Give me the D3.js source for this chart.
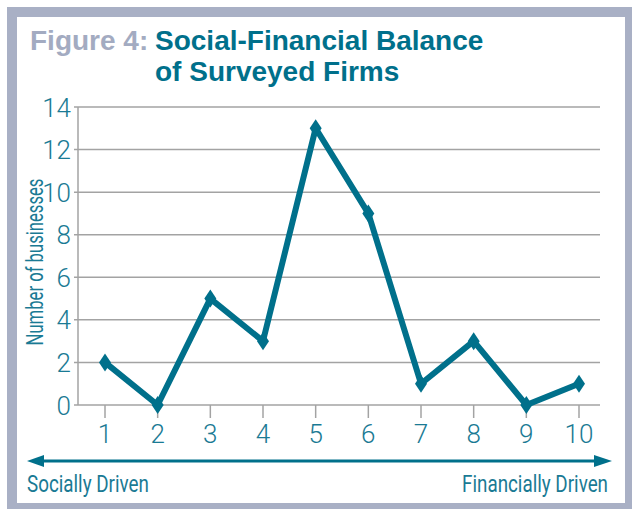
<!DOCTYPE html>
<html><head><meta charset="utf-8">
<script src="https://cdn.jsdelivr.net/npm/d3@7/dist/d3.min.js"></script>
<style>
html,body{margin:0;padding:0;background:#fff;}
svg{display:block;}
</style></head>
<body>
<svg id="chart" width="632" height="509"></svg>
<script>
const categories = [1,2,3,4,5,6,7,8,9,10];
const businesses = [2,0,5,3,13,9,1,3,0,1];
const yTicks = [0,2,4,6,8,10,12,14];
const titleLead = "Figure 4:";
const titleLines = ["Social-Financial Balance","of Surveyed Firms"];
const yAxisTitle = "Number of businesses";
const leftLabel = "Socially Driven";
const rightLabel = "Financially Driven";

const teal = "#00708b", textTeal = "#1a7a94", frame = "#a9b0c5", grid = "#a3a3a3";
const font = "'Liberation Sans', Arial, sans-serif";
const light = "Roboto, 'Liberation Sans', sans-serif";

const svg = d3.select("#chart");
svg.append("rect").attr("x",7).attr("y",7).attr("width",625).attr("height",502).attr("fill",frame);
svg.append("rect").attr("x",17).attr("y",17).attr("width",608).attr("height",486).attr("fill","#fff");

// title
const t1 = svg.append("text").attr("x",30).attr("y",50).attr("font-family",font)
  .attr("font-weight","bold").attr("font-size",28);
t1.append("tspan").attr("fill","#a3abc1").text(titleLead);
t1.append("tspan").attr("fill",teal).attr("x",155).text(titleLines[0]);
svg.append("text").attr("x",155).attr("y",81).attr("font-family",font)
  .attr("font-weight","bold").attr("font-size",28).attr("fill",teal).text(titleLines[1]);

const x = d3.scaleLinear().domain([1,10]).range([105,579]);
const y = d3.scaleLinear().domain([0,14]).range([405,107]);
const left = 78, right = 600;

svg.append("g").selectAll("line").data(yTicks).join("line")
  .attr("x1",74).attr("x2",right).attr("y1",d=>y(d)).attr("y2",d=>y(d))
  .attr("stroke",grid).attr("stroke-width",1.5);
svg.append("line").attr("x1",left).attr("x2",left).attr("y1",y(14)).attr("y2",y(0))
  .attr("stroke",grid).attr("stroke-width",1.5);
svg.append("g").selectAll("line").data(categories).join("line")
  .attr("x1",d=>x(d)).attr("x2",d=>x(d)).attr("y1",y(0)).attr("y2",y(0)+13)
  .attr("stroke",grid).attr("stroke-width",1.5);

svg.append("g").selectAll("text").data(yTicks).join("text")
  .attr("x",71).attr("y",d=>y(d)+9.5).attr("text-anchor","end")
  .attr("font-family",light).attr("font-weight",300).attr("font-size",26).attr("fill",textTeal).text(d=>d);
svg.append("g").selectAll("text").data(categories).join("text")
  .attr("x",d=>x(d)).attr("y",443).attr("text-anchor","middle")
  .attr("font-family",light).attr("font-weight",300).attr("font-size",26).attr("fill",textTeal).text(d=>d);

function condensed(txt, tx, ty, rot, anchor, width){
  const g = svg.append("g").attr("transform",`translate(${tx},${ty}) rotate(${rot})`);
  const el = g.append("text").attr("text-anchor",anchor).attr("font-family",light)
    .attr("font-weight",400).attr("font-size",23).attr("fill",textTeal).text(txt);
  const len = el.node().getComputedTextLength();
  el.attr("transform",`scale(${width/len},1)`);
}
condensed(yAxisTitle, 43, 262, -90, "middle", 167);
condensed(leftLabel, 27, 492, 0, "start", 122);
condensed(rightLabel, 608, 492, 0, "end", 146);

const line = d3.line().x((d,i)=>x(categories[i])).y(d=>y(d));
svg.append("path").datum(businesses).attr("d",line).attr("fill","none")
  .attr("stroke",teal).attr("stroke-width",6).attr("stroke-linejoin","round");
svg.append("g").selectAll("path").data(businesses).join("path")
  .attr("d",(d,i)=>{const cx=x(categories[i]), cy=y(d);
    return `M${cx},${cy-9}L${cx+6},${cy}L${cx},${cy+9}L${cx-6},${cy}Z`;})
  .attr("fill",teal);

const ay = 461;
svg.append("line").attr("x1",40).attr("x2",596).attr("y1",ay).attr("y2",ay)
  .attr("stroke",teal).attr("stroke-width",3);
svg.append("path").attr("d",`M27,${ay}L44,${ay-6}L44,${ay+6}Z`).attr("fill",teal);
svg.append("path").attr("d",`M612,${ay}L594,${ay-6}L594,${ay+6}Z`).attr("fill",teal);
</script>
</body></html>
